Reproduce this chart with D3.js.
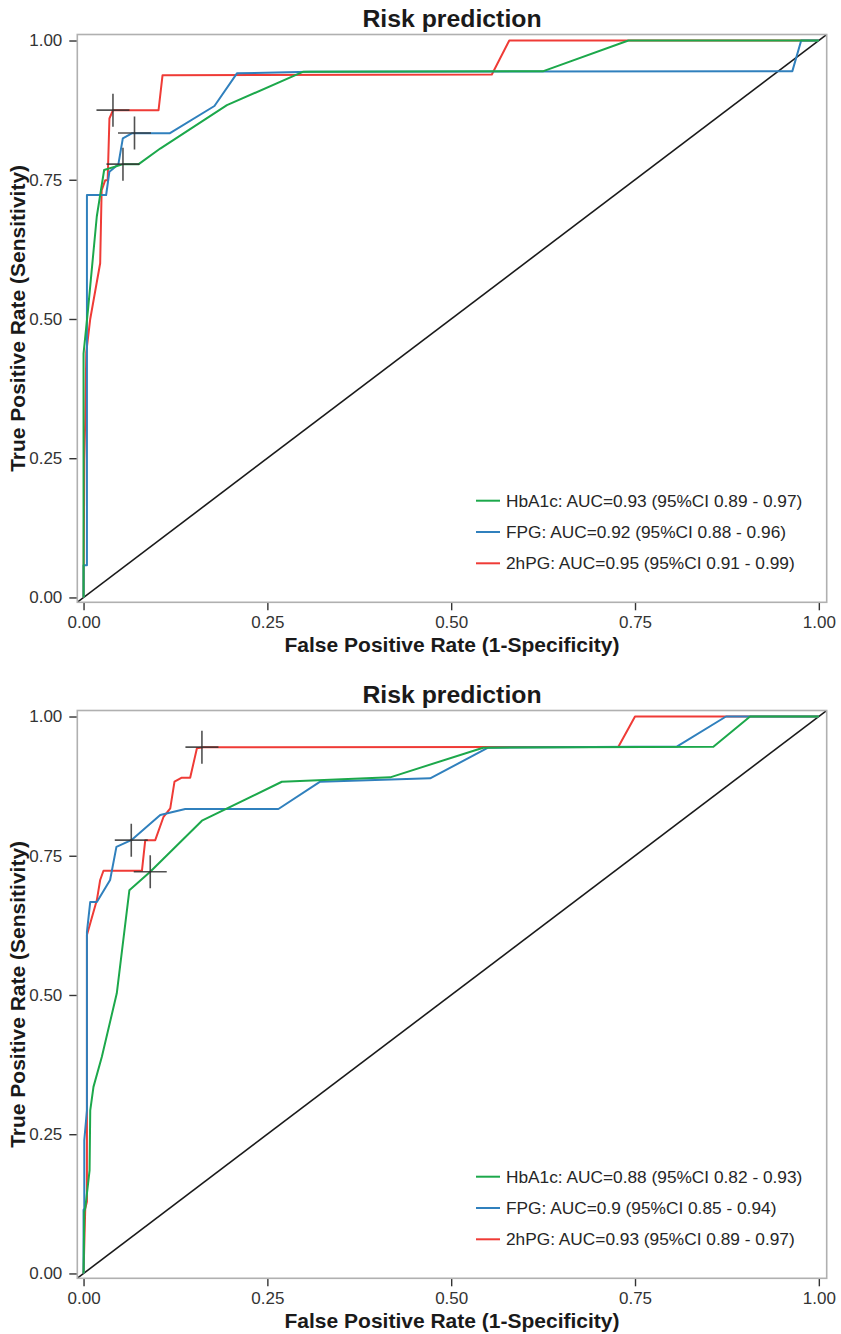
<!DOCTYPE html>
<html lang="en">
<head>
<meta charset="UTF-8">
<title>Risk prediction</title>
<style>
  body { margin: 0; background: #fff; }
  text { font-family: "Liberation Sans", Arial, sans-serif; }
</style>
</head>
<body>
<svg width="841" height="1334" id="svg"></svg>
<script src="https://d3js.org/d3.v7.min.js"></script>
<script>
// legend order: HbA1c, FPG, 2hPG
let series = ["HbA1c", "FPG", "2hPG"]
let tickValues = [0, 0.25, 0.5, 0.75, 1]
let tickLabels = ["0.00", "0.25", "0.50", "0.75", "1.00"]

// ---- top panel ----
let fprTopHbA1c = [0, 0, 0.006, 0.018, 0.028, 0.054, 0.075, 0.1043, 0.195, 0.299, 0.6254, 0.741, 1]
let tprTopHbA1c = [0, 0.438, 0.516, 0.684, 0.7675, 0.778, 0.778, 0.806, 0.884, 0.944, 0.945, 1, 1]
let fprTopFPG = [0, 0, 0.0046, 0.0046, 0.0307, 0.0352, 0.0474, 0.0534, 0.0656, 0.117, 0.178, 0.2086, 0.308, 0.964, 0.976, 1]
let tprTopFPG = [0, 0.058, 0.058, 0.7226, 0.7226, 0.7645, 0.778, 0.8244, 0.8334, 0.8334, 0.8824, 0.941, 0.944, 0.945, 1, 1]
let fprTop2hPG = [0, 0.001, 0.0023, 0.0037, 0.0091, 0.0226, 0.0246, 0.0294, 0.0328, 0.0352, 0.04, 0.102, 0.1074, 0.5553, 0.579, 1]
let tprTop2hPG = [0, 0.246, 0.319, 0.44, 0.50, 0.60, 0.731, 0.749, 0.749, 0.86, 0.875, 0.875, 0.9375, 0.939, 1, 1]
// best cut-off points (HbA1c, FPG, 2hPG)
let cutFprTop = [0.0536, 0.0693, 0.04]
let cutTprTop = [0.778, 0.834, 0.875]
let legendTop = ["HbA1c: AUC=0.93 (95%CI 0.89 - 0.97)", "FPG: AUC=0.92 (95%CI 0.88 - 0.96)", "2hPG: AUC=0.95 (95%CI 0.91 - 0.99)"]

// ---- bottom panel ----
let fprBotHbA1c = [0, 0.001, 0.0023, 0.0082, 0.0091, 0.0135, 0.0249, 0.0452, 0.0623, 0.0907, 0.161, 0.2697, 0.417, 0.5434, 0.8566, 0.9065, 1]
let tprBotHbA1c = [0, 0.1106, 0.117, 0.185, 0.293, 0.335, 0.389, 0.503, 0.688, 0.7213, 0.8129, 0.8829, 0.8908, 0.944, 0.9457, 1, 1]
let fprBotFPG = [0, 0, 0.001, 0.001, 0.0046, 0.0046, 0.0091, 0.0181, 0.0361, 0.0447, 0.0649, 0.1043, 0.1383, 0.265, 0.3218, 0.4714, 0.5502, 0.8068, 0.8738, 1]
let tprBotFPG = [0, 0.114, 0.117, 0.239, 0.293, 0.6135, 0.667, 0.667, 0.7064, 0.766, 0.778, 0.823, 0.834, 0.834, 0.883, 0.889, 0.944, 0.946, 1, 1]
let fprBot2hPG = [0, 0.0023, 0.0046, 0.0046, 0.0181, 0.0226, 0.0271, 0.0794, 0.0839, 0.0975, 0.1088, 0.1179, 0.1237, 0.133, 0.145, 0.1542, 0.163, 0.7274, 0.75, 1]
let tprBot2hPG = [0, 0.1167, 0.1286, 0.6076, 0.6704, 0.7064, 0.723, 0.723, 0.778, 0.778, 0.82, 0.835, 0.883, 0.89, 0.89, 0.943, 0.9447, 0.9457, 1, 1]
let cutFprBot = [0.0907, 0.0649, 0.161]
let cutTprBot = [0.7213, 0.778, 0.945]
let legendBot = ["HbA1c: AUC=0.88 (95%CI 0.82 - 0.93)", "FPG: AUC=0.9 (95%CI 0.85 - 0.94)", "2hPG: AUC=0.93 (95%CI 0.89 - 0.97)"]

let colors = { "HbA1c": "#1ca84b", "FPG": "#3080bd", "2hPG": "#ef3b36" }
let drawOrder = ["2hPG", "FPG", "HbA1c"]

var svg = d3.select("svg")
// panel box (note: "top" is reserved on window, so use other names)
var pLeft = 77.3, pRight = 826.7, pTop = 34.5, pBottom = 602.3

var xScale = d3.scaleLinear().domain([-0.0085, 1.0107]).range([pLeft, pRight])
var yScale = d3.scaleLinear().domain([-0.0087, 1.0108]).range([pBottom, pTop])

function zip(fpr, tpr) { return fpr.map(function (d, i) { return [d, tpr[i]] }) }

function drawPanel(offset, curves, cutFpr, cutTpr, legend, id) {
    var g = svg.append("g").attr("transform", "translate(0," + offset + ")")

    g.append("clipPath").attr("id", "clip" + id)
        .append("rect").attr("x", pLeft).attr("y", pTop)
        .attr("width", pRight - pLeft).attr("height", pBottom - pTop)

    // title
    g.append("text").attr("x", (pLeft + pRight) / 2).attr("y", 27)
        .attr("text-anchor", "middle").attr("font-size", 24.8).attr("font-weight", "bold")
        .attr("fill", "#1a1a1a").text("Risk prediction")

    // axes
    var xAxis = g.append("g").attr("transform", "translate(0," + pBottom + ")")
        .call(d3.axisBottom(xScale).tickValues(tickValues)
            .tickFormat(function (d, i) { return tickLabels[i] }).tickSize(8).tickPadding(6))
    var yAxis = g.append("g").attr("transform", "translate(" + pLeft + ",0)")
        .call(d3.axisLeft(yScale).tickValues(tickValues)
            .tickFormat(function (d, i) { return tickLabels[i] }).tickSize(8).tickPadding(7))
    ;[xAxis, yAxis].forEach(function (a) {
        a.select(".domain").remove()
        a.selectAll("line").attr("stroke", "#333").attr("stroke-width", 1.4)
        a.selectAll("text").attr("fill", "#333").attr("font-size", 17)
            .attr("font-family", "Liberation Sans, Arial, sans-serif")
    })

    g.append("text").attr("x", (pLeft + pRight) / 2).attr("y", 651.5)
        .attr("text-anchor", "middle").attr("font-size", 21).attr("font-weight", "bold")
        .attr("fill", "#1a1a1a").text("False Positive Rate (1-Specificity)")
    g.append("text").attr("transform", "translate(25," + (pTop + pBottom) / 2 + ") rotate(-90)")
        .attr("text-anchor", "middle").attr("font-size", 21).attr("font-weight", "bold")
        .attr("fill", "#1a1a1a").text("True Positive Rate (Sensitivity)")

    var plot = g.append("g").attr("clip-path", "url(#clip" + id + ")")

    // reference diagonal
    plot.append("line")
        .attr("x1", xScale(-0.05)).attr("y1", yScale(-0.05))
        .attr("x2", xScale(1.05)).attr("y2", yScale(1.05))
        .attr("stroke", "#1a1a1a").attr("stroke-width", 1.6)

    var line = d3.line().x(function (d) { return xScale(d[0]) }).y(function (d) { return yScale(d[1]) })

    drawOrder.forEach(function (s) {
        plot.append("path").datum(curves[s])
            .attr("d", line).attr("fill", "none")
            .attr("stroke", colors[s]).attr("stroke-width", 2)
            .attr("stroke-linejoin", "round")
    })

    // cut-off crosses
    var cuts = zip(cutFpr, cutTpr)
    var cg = plot.selectAll(".cut").data(cuts).enter().append("g")
        .attr("transform", function (d) { return "translate(" + xScale(d[0]) + "," + yScale(d[1]) + ")" })
    cg.append("line").attr("x1", -16.5).attr("x2", 16.5)
    cg.append("line").attr("y1", -16.5).attr("y2", 16.5)
    cg.selectAll("line").attr("stroke", "#333").attr("stroke-opacity", 0.85).attr("stroke-width", 1.6)

    // panel border
    g.append("rect").attr("x", pLeft).attr("y", pTop)
        .attr("width", pRight - pLeft).attr("height", pBottom - pTop)
        .attr("fill", "none").attr("stroke", "#b0b0b0").attr("stroke-width", 1.6)

    // legend
    var lg = g.selectAll(".leg").data(series).enter().append("g")
        .attr("transform", function (d, i) { return "translate(476," + (500.7 + i * 31.3) + ")" })
    lg.append("line").attr("x1", 0).attr("x2", 24)
        .attr("stroke", function (d) { return colors[d] }).attr("stroke-width", 2)
    lg.append("text").attr("x", 30).attr("y", 6).attr("font-size", 17.3).attr("fill", "#262626")
        .text(function (d, i) { return legend[i] })
}

drawPanel(0, {
    "HbA1c": zip(fprTopHbA1c, tprTopHbA1c),
    "FPG": zip(fprTopFPG, tprTopFPG),
    "2hPG": zip(fprTop2hPG, tprTop2hPG)
}, cutFprTop, cutTprTop, legendTop, 1)

drawPanel(676, {
    "HbA1c": zip(fprBotHbA1c, tprBotHbA1c),
    "FPG": zip(fprBotFPG, tprBotFPG),
    "2hPG": zip(fprBot2hPG, tprBot2hPG)
}, cutFprBot, cutTprBot, legendBot, 2)
</script>
</body>
</html>
